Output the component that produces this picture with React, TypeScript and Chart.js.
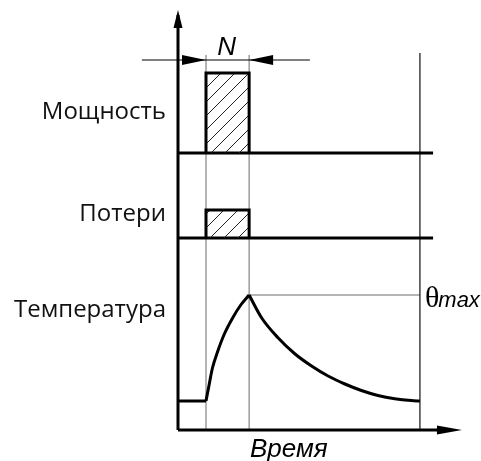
import React, { useEffect, useRef } from "react";
import { Chart, registerables } from "chart.js";

Chart.register(...registerables);

// ---- data (time in arbitrary units, levels in arbitrary units) ----
const BAND_LABELS = ["Мощность", "Потери", "Температура"];
const X_TITLE = "Время";
const PULSE_LABEL = "N";
const THETA_LABEL = "θ";
const THETA_SUB = "max";

const TIME_ON = 10;
const TIME_OFF = 25.4;
const TIME_END = 86.4;
const TIME_AXIS_END = 101.4;
const TIME_BASELINE_END = 91.1;

const POWER_LEVEL = 80;
const LOSS_LEVEL = 28;

const TEMP_FLAT_T = [0, 10];
const TEMP_FLAT_V = [0, 0];
const TEMP_RISE_T = [10, 11.1, 12.3, 14.1, 16.4, 19.5, 22.4, 25.4];
const TEMP_RISE_V = [0, 16, 33, 49, 66, 83, 96, 106];
const TEMP_FALL_T = [25.4, 29.9, 35.8, 41.8, 47.7, 53.6, 59.6, 65.5, 71.4, 77.4, 83.3, 86.4];
const TEMP_FALL_V = [106, 83, 63, 47, 35, 25, 17, 10.5, 5.5, 2.2, 0.4, 0];

// ---- layout (band baselines on the vertical scale, view range) ----
const BAND_POWER = 277;
const BAND_LOSS = 192;
const BAND_TEMP = 29;
const Y_AXIS_TOP = 420;
const GUIDE_TOP = 375;
const GUIDE_TOP_END = 377;
const DIM_Y = 370;
const DIM_LEFT = -12.9;
const DIM_RIGHT = 47.1;
const X_MIN = -63.57;
const X_MAX = 108.21;
const Y_MIN = -31;
const Y_MAX = 430;

const pts = (t: number[], v: number[], base = 0) => t.map((tt, i) => ({ x: tt, y: v[i] + base }));

function makeHatch(): CanvasPattern | string {
  const c = document.createElement("canvas");
  const s = 14;
  c.width = s;
  c.height = s;
  const g = c.getContext("2d");
  if (!g) return "transparent";
  g.strokeStyle = "#222";
  g.lineWidth = 1;
  g.beginPath();
  g.moveTo(0, s);
  g.lineTo(s, 0);
  g.moveTo(-3, 3);
  g.lineTo(3, -3);
  g.moveTo(s - 3, s + 3);
  g.lineTo(s + 3, s - 3);
  g.stroke();
  return g.createPattern(c, "repeat") || "transparent";
}

function arrow(ctx: CanvasRenderingContext2D, tx: number, ty: number, dx: number, dy: number, len: number, half: number) {
  const bx = tx - dx * len;
  const by = ty - dy * len;
  const nx = -dy;
  const ny = dx;
  ctx.beginPath();
  ctx.moveTo(tx, ty);
  ctx.lineTo(bx + nx * half, by + ny * half);
  ctx.lineTo(bx - nx * half, by - ny * half);
  ctx.closePath();
  ctx.fill();
}

const decorPlugin = {
  id: "decor",
  afterDatasetsDraw(chart: any) {
    const { ctx, scales } = chart;
    const X = (v: number) => scales.x.getPixelForValue(v);
    const Y = (v: number) => scales.y.getPixelForValue(v);
    ctx.save();
    ctx.fillStyle = "#000";
    // axis arrows
    arrow(ctx, X(0), Y(Y_AXIS_TOP), 0, -1, 18, 4.5);
    arrow(ctx, X(TIME_AXIS_END), Y(0), 1, 0, 25, 4.5);
    // dimension arrows
    arrow(ctx, X(TIME_ON), Y(DIM_Y), 1, 0, 24, 5);
    arrow(ctx, X(TIME_OFF), Y(DIM_Y), -1, 0, 24, 5);

    // band labels
    ctx.fillStyle = "#111";
    ctx.font = '24px "Open Sans"';
    ctx.textAlign = "right";
    ctx.textBaseline = "alphabetic";
    const labelX = X(-4.3);
    ctx.fillText(BAND_LABELS[0], labelX, Y(BAND_POWER + 33.7));
    ctx.fillText(BAND_LABELS[1], labelX, Y(BAND_LOSS + 17.3));
    ctx.fillText(BAND_LABELS[2], labelX, Y(BAND_TEMP + 84.3));

    // N
    ctx.fillStyle = "#000";
    ctx.textAlign = "center";
    ctx.font = 'italic 26px "Liberation Sans"';
    ctx.fillText(PULSE_LABEL, X((TIME_ON + TIME_OFF) / 2) - 1, Y(DIM_Y + 5));

    // x title
    ctx.textAlign = "left";
    ctx.font = 'italic 26px "Liberation Sans"';
    ctx.fillText(X_TITLE, X(TIME_OFF + 0.3), Y(-27));

    // theta max
    ctx.font = '30px "Liberation Serif"';
    const tx = X(TIME_END) + 5;
    const ty = Y(BAND_TEMP + TEMP_RISE_V[TEMP_RISE_V.length - 1] - 11.7);
    ctx.fillText(THETA_LABEL, tx, ty);
    const w = ctx.measureText(THETA_LABEL).width;
    ctx.font = 'italic 22px "Liberation Sans"';
    ctx.fillText(THETA_SUB, tx + w - 1, ty);
    ctx.restore();
  },
};

export default function App() {
  const ref = useRef<HTMLCanvasElement | null>(null);

  useEffect(() => {
    if (!ref.current) return;
    const hatch = makeHatch();
    const thick = { borderColor: "#000", borderWidth: 3, pointRadius: 0, showLine: true, tension: 0, fill: false };
    const thin = { borderColor: "#6a6a6a", borderWidth: 1, pointRadius: 0, showLine: true, tension: 0, fill: false };

    const datasets: any[] = [
      // temperature curve
      { ...thick, data: pts(TEMP_FLAT_T, TEMP_FLAT_V, BAND_TEMP) },
      { ...thick, data: pts(TEMP_RISE_T, TEMP_RISE_V, BAND_TEMP), tension: 0.4, cubicInterpolationMode: "monotone" },
      { ...thick, data: pts(TEMP_FALL_T, TEMP_FALL_V, BAND_TEMP), tension: 0.4, cubicInterpolationMode: "monotone" },
      // power pulse
      {
        ...thick,
        data: [
          { x: TIME_ON, y: BAND_POWER },
          { x: TIME_ON, y: BAND_POWER + POWER_LEVEL },
          { x: TIME_OFF, y: BAND_POWER + POWER_LEVEL },
          { x: TIME_OFF, y: BAND_POWER },
        ],
        fill: { value: BAND_POWER },
        backgroundColor: hatch,
        borderJoinStyle: "miter",
      },
      // losses pulse
      {
        ...thick,
        data: [
          { x: TIME_ON, y: BAND_LOSS },
          { x: TIME_ON, y: BAND_LOSS + LOSS_LEVEL },
          { x: TIME_OFF, y: BAND_LOSS + LOSS_LEVEL },
          { x: TIME_OFF, y: BAND_LOSS },
        ],
        fill: { value: BAND_LOSS },
        backgroundColor: hatch,
        borderJoinStyle: "miter",
      },
      // axes
      { ...thick, data: [{ x: 0, y: 0 }, { x: 0, y: Y_AXIS_TOP - 5 }] },
      { ...thick, data: [{ x: 0, y: 0 }, { x: TIME_AXIS_END - 5, y: 0 }] },
      // band baselines
      { ...thick, data: [{ x: 0, y: BAND_POWER }, { x: TIME_BASELINE_END, y: BAND_POWER }] },
      { ...thick, data: [{ x: 0, y: BAND_LOSS }, { x: TIME_BASELINE_END, y: BAND_LOSS }] },
      // dimension line
      { ...thin, borderColor: "#000", data: [{ x: DIM_LEFT, y: DIM_Y }, { x: DIM_RIGHT, y: DIM_Y }] },
      // guides
      { ...thin, data: [{ x: TIME_ON, y: 0 }, { x: TIME_ON, y: GUIDE_TOP }] },
      { ...thin, data: [{ x: TIME_OFF, y: 0 }, { x: TIME_OFF, y: GUIDE_TOP }] },
      { ...thin, borderColor: "#222", borderWidth: 1.3, data: [{ x: TIME_END, y: 0 }, { x: TIME_END, y: GUIDE_TOP_END }] },
      {
        ...thin,
        data: [
          { x: TIME_OFF, y: BAND_TEMP + TEMP_RISE_V[TEMP_RISE_V.length - 1] },
          { x: TIME_END, y: BAND_TEMP + TEMP_RISE_V[TEMP_RISE_V.length - 1] },
        ],
      },
    ];

    const chart = new Chart(ref.current, {
      type: "line",
      data: { datasets },
      options: {
        animation: false,
        responsive: false,
        devicePixelRatio: 1,
        layout: { padding: 0 },
        plugins: { legend: { display: false }, tooltip: { enabled: false } },
        events: [],
        scales: {
          x: { type: "linear", display: false, min: X_MIN, max: X_MAX },
          y: { type: "linear", display: false, min: Y_MIN, max: Y_MAX },
        },
      },
      plugins: [decorPlugin],
    } as any);
    return () => chart.destroy();
  }, []);

  return (
    <div style={{ position: "fixed", left: 0, top: 0, width: 481, height: 461, background: "#fff" }}>
      <canvas ref={ref} width={481} height={461} style={{ display: "block" }} />
    </div>
  );
}
